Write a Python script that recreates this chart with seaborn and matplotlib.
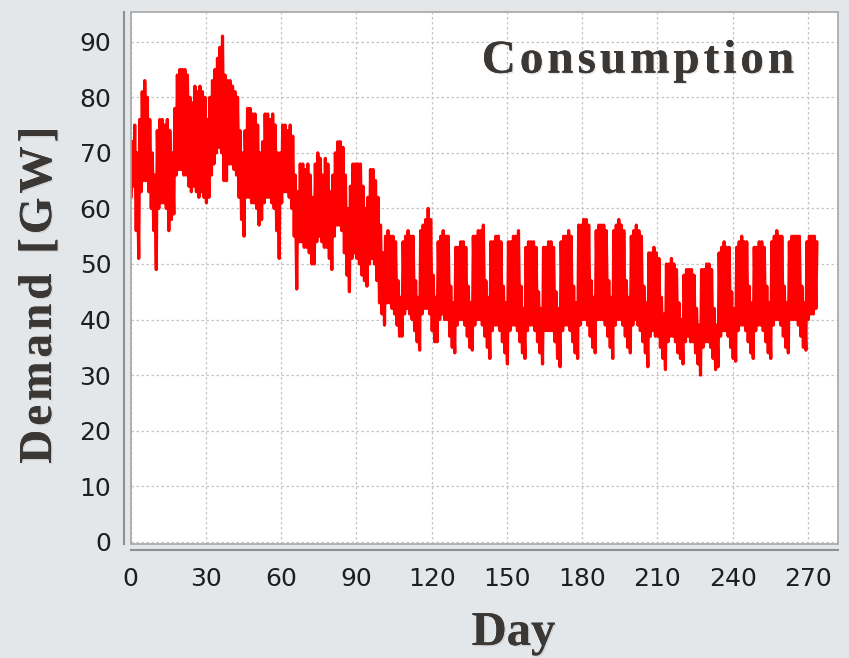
import numpy as np
import pandas as pd
import matplotlib
matplotlib.use("Agg")
import matplotlib.pyplot as plt
import matplotlib.patheffects as pe
from matplotlib.patches import Rectangle
import seaborn as sns

# ---- data: daily maximum and minimum demand, GW ----
daily_max = [
    72, 75, 70,
    76, 81, 83, 80, 76, 70, 66,
    74, 76, 76, 75, 76, 74, 70,
    78, 84, 85, 85, 85, 84, 80,
    79, 82, 81, 82, 81, 80, 76,
    80, 83, 85, 87, 89, 91, 84,
    83, 83, 82, 81, 80, 74, 70,
    74, 78, 78, 77, 77, 75, 70,
    72, 77, 77, 76, 77, 75, 70,
    70, 75, 75, 74, 75, 73, 66,
    63, 68, 68, 67, 68, 66, 62,
    68, 70, 69, 66, 69, 68, 63,
    66, 70, 72, 72, 71, 66, 60,
    64, 68, 68, 68, 68, 64, 60,
    62, 67, 67, 65, 62, 57, 52,
    55, 56, 55, 55, 54, 47, 44,
    54, 55, 56, 55, 55, 47, 44,
    56, 57, 58, 60, 58, 48, 44,
    54, 55, 56, 55, 55, 46, 43,
    53, 53, 54, 54, 53, 46, 43,
    55, 55, 56, 56, 57, 47, 44,
    54, 54, 55, 55, 54, 46, 43,
    54, 54, 55, 55, 56, 46, 42,
    53, 54, 54, 54, 53, 45, 42,
    53, 53, 54, 54, 53, 45, 42,
    54, 55, 55, 56, 55, 46, 43,
    57, 57, 58, 58, 57, 47, 44,
    56, 57, 57, 57, 56, 47, 44,
    56, 57, 58, 57, 56, 47, 44,
    55, 56, 57, 56, 55, 46, 43,
    52, 52, 53, 52, 51, 44, 41,
    50, 50, 51, 50, 49, 43, 40,
    48, 49, 49, 49, 48, 42, 39,
    49, 49, 50, 50, 49, 42, 39,
    52, 53, 54, 53, 53, 45, 42,
    53, 54, 55, 54, 54, 46, 43,
    53, 53, 54, 54, 53, 46, 43,
    54, 55, 56, 55, 55, 46, 43,
    54, 55, 55, 55, 55, 46, 43,
    54, 55, 55, 55, 54,
]
daily_min = [
    62, 64, 56,
    51, 63, 65, 65, 63, 60, 56,
    49, 60, 61, 61, 60, 56, 58,
    59, 66, 67, 67, 66, 66, 64,
    63, 64, 63, 62, 63, 62, 61,
    62, 66, 68, 70, 71, 70, 65,
    65, 68, 68, 67, 66, 62, 58,
    55, 62, 62, 61, 61, 60, 57,
    58, 61, 62, 62, 61, 60, 56,
    51, 61, 63, 63, 62, 60, 55,
    45.5, 54, 54, 53, 53, 52, 50,
    50, 54, 55, 54, 53, 53, 51,
    49, 55, 57, 57, 56, 52, 48,
    45, 51, 52, 51, 50, 48, 47,
    46, 50, 51, 50, 47, 43, 41,
    39, 43, 43, 42, 41, 39, 37,
    37, 41, 42, 41, 40, 38, 36,
    34.5, 41, 42, 42, 41, 38, 36,
    36, 40, 41, 40, 40, 37, 35,
    34, 39, 40, 40, 39, 37, 35,
    34.5, 39, 40, 40, 39, 37, 35,
    33, 38, 39, 39, 38, 36, 34,
    32, 38, 39, 39, 38, 36, 34,
    33, 38, 39, 39, 38, 36, 34,
    32, 38, 38, 38, 38, 36, 33,
    31.5, 38, 39, 39, 38, 36, 34,
    33, 39, 40, 40, 39, 37, 35,
    34, 40, 40, 40, 39, 37, 35,
    33, 39, 40, 40, 39, 37, 35,
    34, 39, 40, 39, 38, 36, 34,
    31.5, 37, 38, 37, 37, 35, 33,
    31, 36, 37, 37, 36, 34, 33,
    32, 36, 37, 36, 36, 34, 32,
    30, 35, 36, 36, 35, 33, 31,
    31.5, 37, 38, 38, 37, 35, 33,
    32.5, 38, 39, 39, 38, 36, 34,
    33, 38, 39, 39, 38, 36, 34,
    33, 39, 40, 40, 39, 37, 35,
    34, 40, 40, 40, 39, 37, 35,
    34.5, 40, 41, 41, 42,
]
x_ticks = [0, 30, 60, 90, 120, 150, 180, 210, 240, 270]
y_ticks = [0, 10, 20, 30, 40, 50, 60, 70, 80, 90]
title_text = "Consumption"
x_label = "Day"
y_label = "Demand [GW]"

# ---- build the series: night minimum then daytime maximum for each day ----
days = np.arange(len(daily_max))
t = np.column_stack([days + 0.2, days + 0.6]).ravel()
v = np.column_stack([daily_min, daily_max]).ravel()
df = pd.DataFrame({"Day": t, "Demand": v})

sns.set_style("white")
plt.rcParams["font.family"] = ["DejaVu Sans"]

W, H = 849, 658
fig = plt.figure(figsize=(W / 100, H / 100), dpi=100)
fig.patch.set_facecolor("#e4e7ea")

L, R, T, B = 130.7, 838, 11.7, 543.5
ax = fig.add_axes([L / W, 1 - B / H, (R - L) / W, (B - T) / H])
ax.set_facecolor("white")

sns.lineplot(data=df, x="Day", y="Demand", ax=ax, color="#ff0000",
             linewidth=2.3, estimator=None, sort=False, legend=False, zorder=3)

ax.set_xlim(0, 282)
ax.set_ylim(-0.3, 95.4)
ax.set_xticks(x_ticks)
ax.set_yticks(y_ticks)
ax.set_xlabel("")
ax.set_ylabel("")

ax.grid(True, color="#c4c4c4", linestyle=(0, (2, 2)), linewidth=0.9)
ax.set_axisbelow(True)

for s in ["top", "right"]:
    ax.spines[s].set_visible(False)
ax.spines["left"].set_position(("outward", 5))
ax.spines["bottom"].set_position(("outward", 4.7))
for s in ["left", "bottom"]:
    ax.spines[s].set_color("#8e8e8e")
    ax.spines[s].set_linewidth(1.5)

ax.add_patch(Rectangle((0, 0), 1, 1, transform=ax.transAxes, fill=False,
                       edgecolor="#a6a6a6", linewidth=1.2, clip_on=False, zorder=5))

ax.tick_params(axis="both", direction="out", length=3, width=1, color="#8e8e8e",
               labelsize=18, labelcolor="#1e1e1e")
ax.tick_params(axis="x", pad=9)
ax.tick_params(axis="y", pad=6)

shadow = [pe.withSimplePatchShadow(offset=(1, -1), shadow_rgbFace="#8a8a8a", alpha=0.22), pe.Normal()]
serif = ["Liberation Serif", "DejaVu Serif"]
tcol = "#3b3734"
hair = "\u200a"

fig.text(638 / W, 1 - 72.7 / H, hair.join(title_text), ha="center", va="baseline",
         fontsize=34, fontweight="bold", family=serif, color=tcol, path_effects=shadow)
fig.text(513.5 / W, 1 - 645 / H, x_label, ha="center", va="baseline",
         fontsize=35, fontweight="bold", family=serif, color=tcol, path_effects=shadow)
fig.text(40 / W, 1 - 295 / H, hair.join(y_label), ha="center", va="center", rotation=90,
         fontsize=34, fontweight="bold", family=serif, color=tcol, path_effects=shadow)

fig.savefig("out.png", dpi=100, facecolor=fig.get_facecolor())
